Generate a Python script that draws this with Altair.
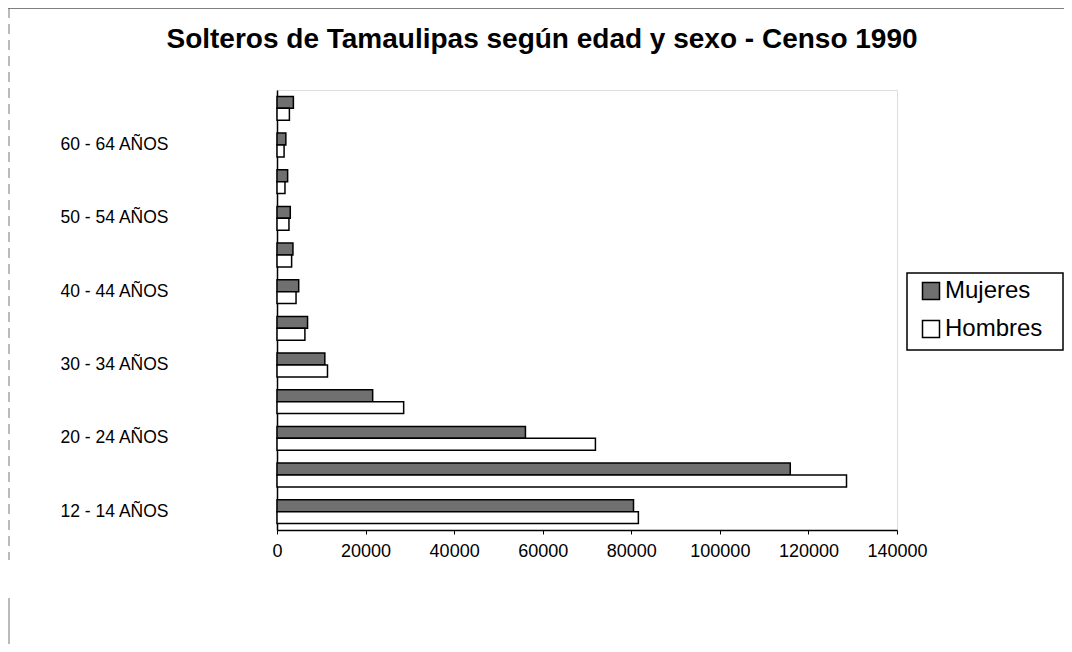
import altair as alt
import pandas as pd

ages = ["12 - 14 AÑOS", "15 - 19 AÑOS", "20 - 24 AÑOS", "25 - 29 AÑOS",
        "30 - 34 AÑOS", "35 - 39 AÑOS", "40 - 44 AÑOS", "45 - 49 AÑOS",
        "50 - 54 AÑOS", "55 - 59 AÑOS", "60 - 64 AÑOS", "65 AÑOS Y MÁS"]
mujeres = [80500, 115900, 56100, 21600, 10800, 6900, 4900, 3600, 3000, 2400, 2000, 3700]
hombres = [81600, 128600, 71900, 28600, 11400, 6300, 4300, 3300, 2700, 1800, 1600, 2800]
shown_labels = ["12 - 14 AÑOS", "20 - 24 AÑOS", "30 - 34 AÑOS",
                "40 - 44 AÑOS", "50 - 54 AÑOS", "60 - 64 AÑOS"]
x_ticks = [0, 20000, 40000, 60000, 80000, 100000, 120000, 140000]
series = ["Mujeres", "Hombres"]
title_text = "Solteros de Tamaulipas según edad y sexo - Censo 1990"

rows = []
for a, m, h in zip(ages, mujeres, hombres):
    rows.append({"edad": a, "sexo": "Mujeres", "valor": m})
    rows.append({"edad": a, "sexo": "Hombres", "valor": h})
df = pd.DataFrame(rows)

FONT = "Liberation Sans"

bars = alt.Chart(df).mark_bar(stroke="black", strokeWidth=1.5).encode(
    x=alt.X("valor:Q",
            scale=alt.Scale(domain=[0, 140000], nice=False),
            axis=alt.Axis(values=x_ticks, format="d", title=None, grid=False,
                          labelFontSize=18, labelFont=FONT, labelColor="black",
                          labelFlush=False, labelPadding=8, tickSize=4,
                          tickColor="black", domainColor="black", domainWidth=1.5)),
    y=alt.Y("edad:N", sort=list(reversed(ages)),
            scale=alt.Scale(paddingInner=0.35, paddingOuter=0.175),
            axis=alt.Axis(values=shown_labels, title=None, ticks=False,
                          labelAlign="left", labelPadding=217,
                          labelFontSize=17.5, labelFont=FONT, labelColor="black",
                          domainColor="black", domainWidth=1.5)),
    yOffset=alt.YOffset("sexo:N", sort=series,
                        scale=alt.Scale(domain=series, paddingInner=0, paddingOuter=0)),
    fill=alt.Fill("sexo:N",
                  scale=alt.Scale(domain=series, range=["#707070", "#ffffff"]),
                  legend=alt.Legend(title=None, orient="none", legendX=642, legendY=189,
                                    padding=0, labelFontSize=24, labelFont=FONT,
                                    labelColor="black", symbolType="square",
                                    symbolSize=289, symbolStrokeColor="black",
                                    symbolStrokeWidth=1.5, rowPadding=14, labelOffset=2)),
)

one = pd.DataFrame({"k": [0]})
legend_box = alt.Chart(one).mark_rect(fill="white", stroke="black", strokeWidth=1.5).encode(
    x=alt.value(630), x2=alt.value(786), y=alt.value(183), y2=alt.value(260))
top_line = alt.Chart(one).mark_rule(color="#555555", strokeWidth=1.5).encode(
    x=alt.value(-269), x2=alt.value(787), y=alt.value(-82))
left_line = alt.Chart(one).mark_rule(color="#777777", strokeWidth=1, strokeDash=[10, 6]).encode(
    x=alt.value(-268), y=alt.value(-82), y2=alt.value(470))
left_line2 = alt.Chart(one).mark_rule(color="#777777", strokeWidth=1).encode(
    x=alt.value(-268), y=alt.value(508), y2=alt.value(560))
title_mark = alt.Chart(one).mark_text(fontSize=28, font=FONT, fontWeight="bold",
                                      color="black", align="center",
                                      baseline="middle").encode(
    x=alt.value(265), y=alt.value(-50), text=alt.value(title_text))

chart = alt.layer(legend_box, bars, top_line, left_line, left_line2, title_mark).properties(
    width=620, height=440,
    autosize=alt.AutoSizeParams(type="none"),
    padding={"left": 269, "top": 82, "right": 167, "bottom": 114},
).configure_view(
    stroke="#222222", strokeDash=[2, 2], strokeWidth=1.2
).configure(background="white")

chart.save("out.html", embed_options={"renderer": "svg", "actions": False})
